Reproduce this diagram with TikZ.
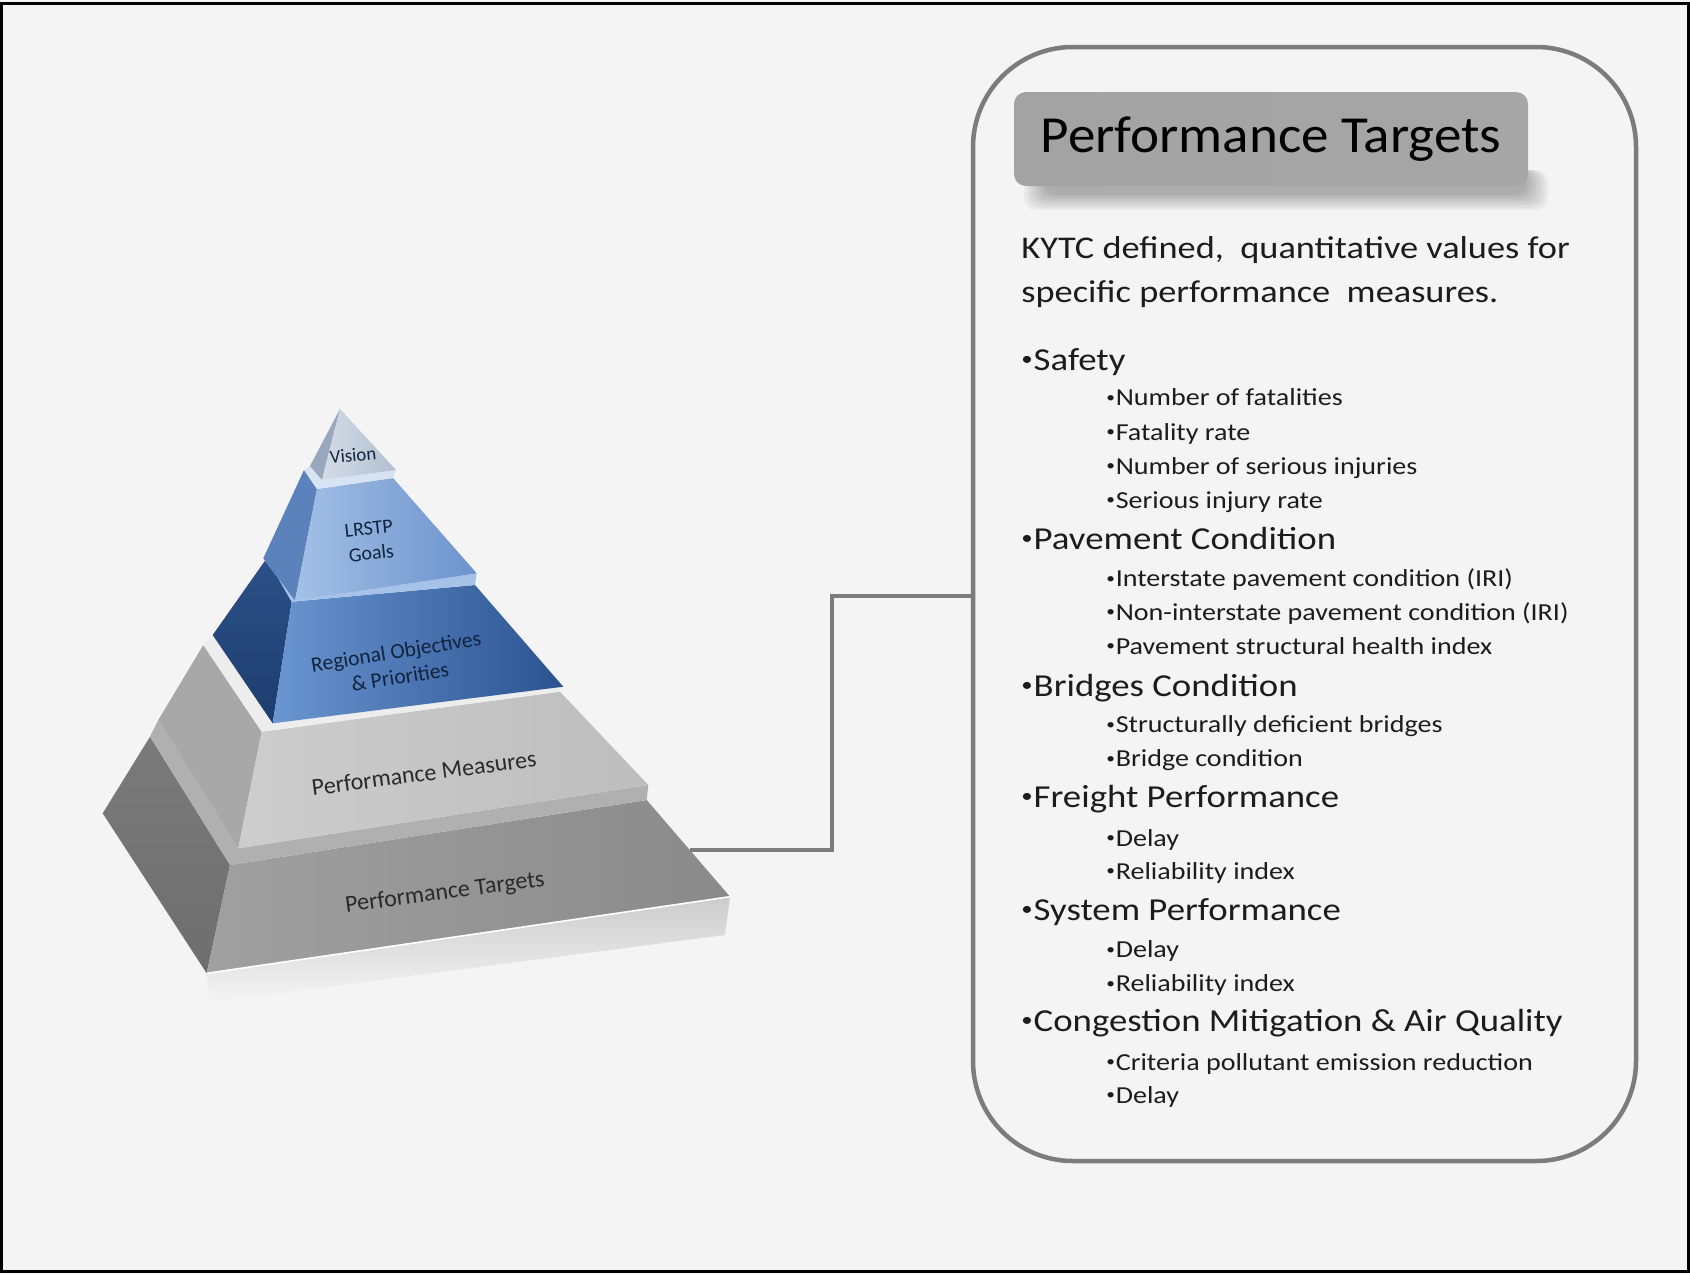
\documentclass[tikz,border=0pt]{standalone}
\usepackage{fontspec}
\usepackage{graphicx}
\setmainfont{Carlito}
\newfontfamily\bodyfont[FakeStretch=1.15]{Carlito}
\newfontfamily\titlefont[FakeStretch=1.06]{Carlito}
\usetikzlibrary{calc}
\newcommand\bul{\raisebox{0.15em}{\scalebox{0.62}{•}}\hspace{0.03em}}
\definecolor{bg}{HTML}{F4F4F4}
\definecolor{boxgray}{HTML}{7C7C7C}
\definecolor{txt}{HTML}{1C1C1C}
\definecolor{navytxt}{HTML}{13233D}
\definecolor{graytxt}{HTML}{2A2A2A}
\definecolor{g5side}{HTML}{7A7A7A}
\definecolor{g5sideb}{HTML}{6E6E6E}
\definecolor{g5l}{HTML}{A0A0A0}
\definecolor{g5r}{HTML}{8A8A8A}
\definecolor{g5top}{HTML}{B0B0B0}
\definecolor{g4side}{HTML}{A8A8A8}
\definecolor{g4l}{HTML}{CDCDCD}
\definecolor{g4r}{HTML}{BDBDBD}
\definecolor{g4top}{HTML}{EDEDED}
\definecolor{b3l}{HTML}{6A96D2}
\definecolor{b3r}{HTML}{2A5390}
\definecolor{b3side}{HTML}{1E3D6E}
\definecolor{b3sidet}{HTML}{2B5088}
\definecolor{b3top}{HTML}{A6C2E8}
\definecolor{b2side}{HTML}{5C82BC}
\definecolor{b2l}{HTML}{A3C0E6}
\definecolor{b2r}{HTML}{6C93CC}
\definecolor{b2top}{HTML}{D7E3F3}
\definecolor{b1side}{HTML}{9AA8BE}
\definecolor{b1l}{HTML}{D3DBE6}
\definecolor{b1r}{HTML}{B3C0D2}
\definecolor{tl}{HTML}{A3A3A3}
\definecolor{tm}{HTML}{7E7E7E}
\definecolor{tr}{HTML}{A6A6A6}
\tikzset{
  lvlone/.style={anchor=base west, inner sep=0pt, text=txt, font=\bodyfont\fontsize{16}{19}\selectfont},
  lvltwo/.style={anchor=base west, inner sep=0pt, text=txt, font=\bodyfont\fontsize{12.2}{14}\selectfont},
  bodytext/.style={anchor=base west, inner sep=0pt, text=txt, font=\bodyfont\fontsize{15.8}{19}\selectfont},
  tiertext/.style={inner sep=0pt, align=center},
  conn/.style={draw=boxgray, line width=1.6pt}
}
\begin{document}
\begin{tikzpicture}[x=0.5pt,y=-0.5pt]
\useasboundingbox (0,0) rectangle (1690,1274);
\fill[bg] (0,0) rectangle (1690,1274);
\draw[black, line width=1.5pt] (1,3) rectangle (1688,1271);

% ---------- pyramid coordinates ----------
\coordinate (T5a) at (150,736.7);
\coordinate (T5b) at (102.7,813.3);
\coordinate (T5c) at (206.7,973.3);
\coordinate (T5d) at (230,865);
\coordinate (T5e) at (646.7,800);
\coordinate (T5f) at (730,896.7);

\coordinate (T4a) at (203.3,645);
\coordinate (T4b) at (158.3,720);
\coordinate (T4c) at (238.3,848.3);
\coordinate (T4d) at (261.7,731.7);
\coordinate (T4e) at (560,691.7);
\coordinate (T4f) at (648.3,785);

\coordinate (T3a) at (266.7,558.3);
\coordinate (T3b) at (212.7,635);
\coordinate (T3c) at (272.7,723.3);
\coordinate (T3d) at (291.7,601.7);
\coordinate (T3e) at (475,585);
\coordinate (T3f) at (563.3,686.7);

\coordinate (T2a) at (304,470);
\coordinate (T2b) at (263.3,558.3);
\coordinate (T2c) at (295,600.7);
\coordinate (T2d) at (317,489);
\coordinate (T2e) at (393,478);
\coordinate (T2f) at (476.7,573.3);

\coordinate (V0) at (340,409);
\coordinate (VL) at (310,466);
\coordinate (VF) at (322,480);
\coordinate (VR) at (396,470);

% floor reflection
\shade[top color=gray!40, bottom color=bg] (T5c) -- (T5f) -- (725,935) -- (210,1002) -- cycle;

% tier 5
\shade[top color=g5side, bottom color=g5sideb] (T5a) -- (T5b) -- (T5c) -- (T5d) -- cycle;
\shade[left color=g5l, right color=g5r] (T5d) -- (T5e) -- (T5f) -- (T5c) -- cycle;
\fill[g5top] (T5a) -- (T5d) -- (T5e) -- (T4f) -- (T4c) -- (T4b) -- cycle;
\draw[white, line width=0.8pt] (T5c) -- (T5f);
% tier 4
\fill[g4side] (T4a) -- (T4b) -- (T4c) -- (T4d) -- cycle;
\shade[left color=g4l, right color=g4r] (T4d) -- (T4e) -- (T4f) -- (T4c) -- cycle;
\fill[g4top] (T4a) -- (T4d) -- (T4e) -- (T3f) -- (T3c) -- (T3b) -- cycle;
% tier 3
\shade[top color=b3sidet, bottom color=b3side] (T3a) -- (T3b) -- (T3c) -- (T3d) -- cycle;
\shade[left color=b3l, right color=b3r] (T3d) -- (T3e) -- (T3f) -- (T3c) -- cycle;
\fill[b3top] (T3a) -- (T3d) -- (T3e) -- (T2f) -- (T2c) -- (T2b) -- cycle;
% tier 2
\fill[b2side] (T2a) -- (T2b) -- (T2c) -- (T2d) -- cycle;
\shade[left color=b2l, right color=b2r] (T2d) -- (T2e) -- (T2f) -- (T2c) -- cycle;
\fill[b2top] (T2a) -- (T2d) -- (T2e) -- (VR) -- (VF) -- (VL) -- cycle;
% tier 1
\fill[b1side] (V0) -- (VL) -- (VF) -- cycle;
\shade[left color=b1l, right color=b1r] (V0) -- (VF) -- (VR) -- cycle;

% tier labels
\node[tiertext, rotate=5, text=navytxt, font=\fontsize{9.4}{11}\selectfont] (lvision) at (353,455) {Vision};
\node[tiertext, rotate=6, text=navytxt, font=\fontsize{10}{12.5}\selectfont] (lgoals) at (370,541) {LRSTP\\Goals};
\node[tiertext, rotate=9, text=navytxt, font=\fontsize{10.8}{12.8}\selectfont] (lregion) at (398,664) {Regional Objectives\\\& Priorities};
\node[tiertext, rotate=7.5, text=graytxt, font=\fontsize{12}{14}\selectfont] (lmeas) at (424,773) {Performance Measures};
\node[tiertext, rotate=7.5, text=graytxt, font=\fontsize{12}{14}\selectfont] (ltarg) at (445,893) {Performance Targets};

% ---------- right box ----------
\node[draw=boxgray, line width=2.25pt, rounded corners=50pt, minimum width=331.5pt, minimum height=557pt, inner sep=0pt] (box) at (1304.5,604) {};

% title shadow
\foreach \i in {0,...,7} {
  \fill[black, opacity=0.04, rounded corners=6pt] (1024+3*\i,170) rectangle (1548-3*\i,210-2.2*\i);
}
\node[rounded corners=6pt, left color=tl, middle color=tm, right color=tr,
      minimum width=257pt, minimum height=47pt, inner sep=0pt, text=black,
      font=\titlefont\fontsize{26}{30}\selectfont] (title) at (1271,139) {Performance Targets};

% connector
\coordinate (tgt) at (690,850);
\coordinate (bend) at (832,596);
\draw[conn] (tgt) -| (bend) -- (bend -| box.west);

% body text
\node[bodytext] (d1) at (1021,258) {KYTC defined,\ \ quantitative values for};
\node[bodytext] (d2) at (1021,302) {specific performance\ \ measures.};

\node[lvlone] (s) at (1021,370.7) {\bul Safety};
\node[lvltwo] (s1) at (1106,405.7) {\bul Number of fatalities};
\node[lvltwo] (s2) at (1106,440) {\bul Fatality rate};
\node[lvltwo] (s3) at (1106,474) {\bul Number of serious injuries};
\node[lvltwo] (s4) at (1106,508) {\bul Serious injury rate};

\node[lvlone] (p) at (1021,549) {\bul Pavement Condition};
\node[lvltwo] (p1) at (1106,586.7) {\bul Interstate pavement condition (IRI)};
\node[lvltwo] (p2) at (1106,620) {\bul Non-interstate pavement condition (IRI)};
\node[lvltwo] (p3) at (1106,654) {\bul Pavement structural health index};

\node[lvlone] (b) at (1021,696) {\bul Bridges Condition};
\node[lvltwo] (b1) at (1106,732.7) {\bul Structurally deficient bridges};
\node[lvltwo] (b2) at (1106,766.7) {\bul Bridge condition};

\node[lvlone] (f) at (1021,807.3) {\bul Freight Performance};
\node[lvltwo] (f1) at (1106,846) {\bul Delay};
\node[lvltwo] (f2) at (1106,879) {\bul Reliability index};

\node[lvlone] (y) at (1021,920) {\bul System Performance};
\node[lvltwo] (y1) at (1106,957.7) {\bul Delay};
\node[lvltwo] (y2) at (1106,991.7) {\bul Reliability index};

\node[lvlone] (c) at (1021,1031.7) {\bul Congestion Mitigation \& Air Quality};
\node[lvltwo] (c1) at (1106,1070) {\bul Criteria pollutant emission reduction};
\node[lvltwo] (c2) at (1106,1103.3) {\bul Delay};
\end{tikzpicture}
\end{document}
